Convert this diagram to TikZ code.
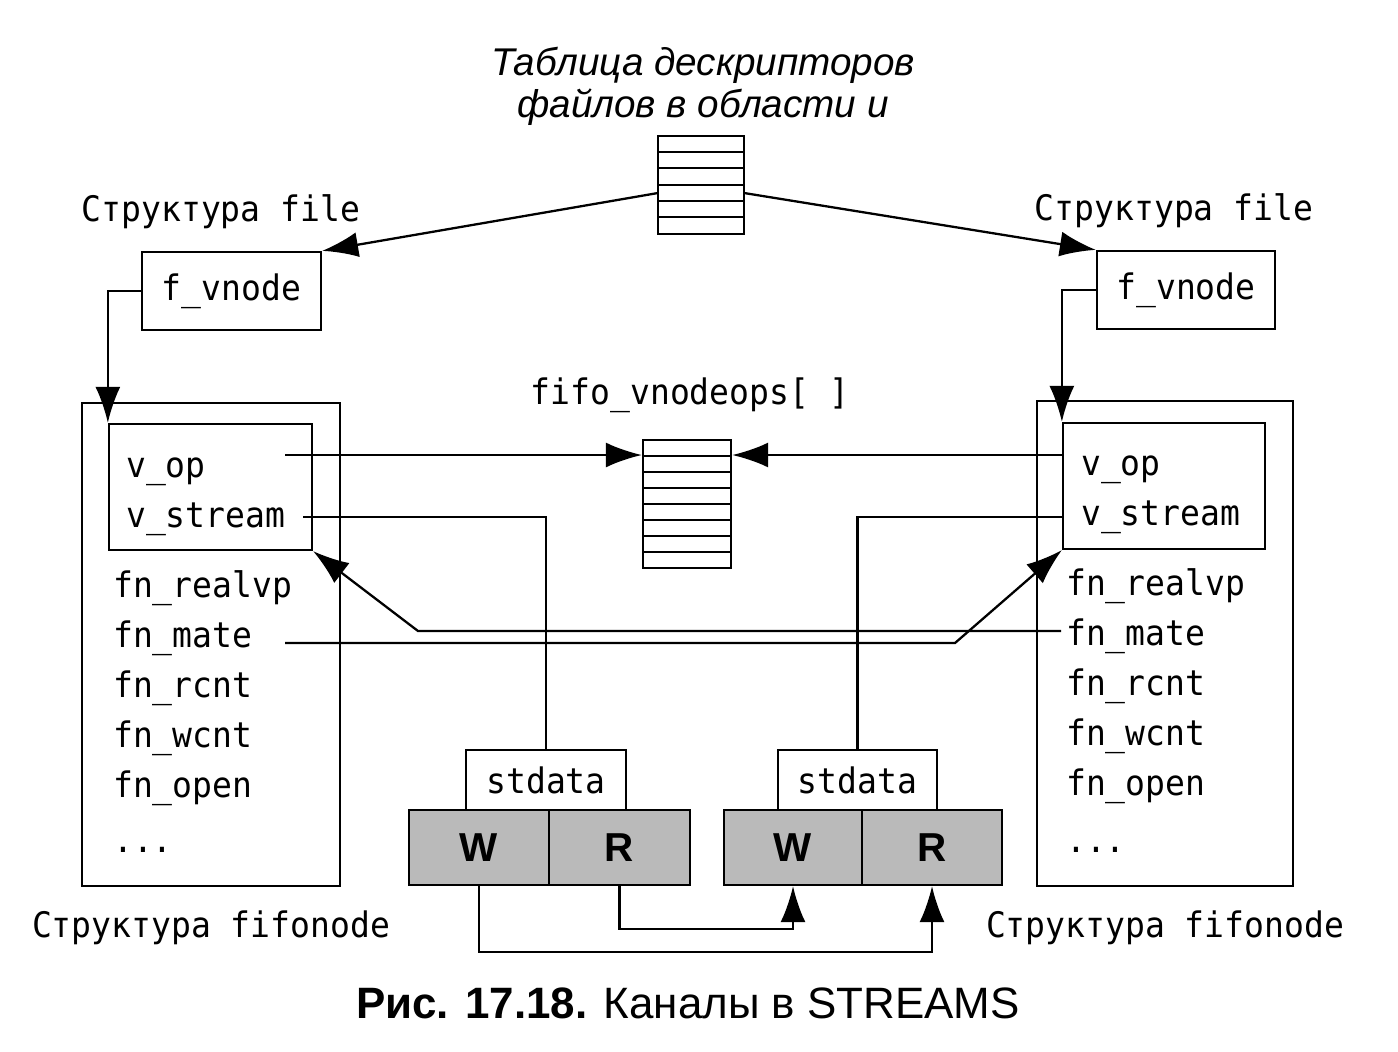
\documentclass[tikz,border=0pt]{standalone}
\usepackage{fontspec}
\setmainfont{Liberation Sans}
\newfontfamily\monof[FakeStretch=0.94]{DejaVu Sans Mono}
\usetikzlibrary{arrows.meta,fit}
\begin{document}
\begin{tikzpicture}[x=0.02cm,y=-0.02cm,
  line width=1.3pt,
  box/.style={draw,inner sep=0pt},
  mono/.style={font=\monof\fontsize{20}{24}\selectfont,inner sep=0pt},
  arr/.style={-{Latex[length=0.72cm,width=0.5cm]}},
  cell/.style={draw,fill=black!27,inner sep=0pt},
  celltxt/.style={font=\bfseries\fontsize{23}{26}\selectfont,inner sep=0pt},
  lbl/.style={mono,anchor=base west},
]
\useasboundingbox (0,0) rectangle (1398,1051);

% title
\node[font=\itshape\fontsize{22}{24}\selectfont,align=center] (title) at (703,86)
  {Таблица дескрипторов\\файлов в области u};

% u-area table
\node[box,fit={(658,136)(744,234)}] (tabu) {};
\foreach \y in {152,168,185,201,217} \draw (658,\y) -- (744,\y);

% fifo_vnodeops table
\node[mono] (opslbl) at (690,395) {fifo\_vnodeops[ ]};
\node[box,fit={(643,440)(731,568)}] (tabv) {};
\foreach \y in {456,472,488,504,520,536,552} \draw (643,\y) -- (731,\y);

% file structures
\node[mono] (Lfile) at (221,212) {Структура file};
\node[mono] (Rfile) at (1174,211) {Структура file};
\node[box,fit={(142,252)(321,330)}] (Lfv) {};
\node[mono] (Lfvt) at (Lfv.center) {f\_vnode};
\node[box,fit={(1097,251)(1275,329)}] (Rfv) {};
\node[mono] (Rfvt) at (Rfv.center) {f\_vnode};

% fifonode structures
\node[box,fit={(82,403)(340,886)}] (Lfifo) {};
\node[box,fit={(109,424)(312,550)}] (Lin) {};
\node[box,fit={(1037,401)(1293,886)}] (Rfifo) {};
\node[box,fit={(1063,423)(1265,549)}] (Rin) {};

\node[lbl] (Lvopt) at (125,477) {v\_op};
\node[lbl] (Lvst) at (125,527) {v\_stream};
\node[lbl] (Lrv) at (112,597) {fn\_realvp};
\node[lbl] (Lmt) at (112,647) {fn\_mate};
\node[lbl] (Lrc) at (112,697) {fn\_rcnt};
\node[lbl] (Lwc) at (112,747) {fn\_wcnt};
\node[lbl] (Lop) at (112,797) {fn\_open};
\node[lbl] (Ldt) at (112,852) {...};

\node[lbl] (Rvopt) at (1080,475) {v\_op};
\node[lbl] (Rvst) at (1080,525) {v\_stream};
\node[lbl] (Rrv) at (1065,595) {fn\_realvp};
\node[lbl] (Rmt) at (1065,645) {fn\_mate};
\node[lbl] (Rrc) at (1065,695) {fn\_rcnt};
\node[lbl] (Rwc) at (1065,745) {fn\_wcnt};
\node[lbl] (Rop) at (1065,795) {fn\_open};
\node[lbl] (Rdt) at (1065,852) {...};

\node[mono] (Lfn) at (211,928) {Структура fifonode};
\node[mono] (Rfn) at (1165,928) {Структура fifonode};

% stream heads
\node[box,fit={(466,750)(626,810)}] (sd1) {};
\node[mono] (sd1t) at (sd1.center) {stdata};
\node[box,fit={(778,750)(937,810)}] (sd2) {};
\node[mono] (sd2t) at (sd2.center) {stdata};
\node[cell,fit={(409,810)(549,885)}] (LW) {};
\node[cell,fit={(549,810)(690,885)}] (LR) {};
\node[cell,fit={(724,810)(862,885)}] (RW) {};
\node[cell,fit={(862,810)(1002,885)}] (RR) {};
\node[celltxt] (LWt) at (LW.center) {W};
\node[celltxt] (LRt) at (LR.center) {R};
\node[celltxt] (RWt) at (RW.center) {W};
\node[celltxt] (RRt) at (RR.center) {R};

% connector end points
\coordinate (T1L) at (658,193);
\coordinate (T1R) at (744,193);
\coordinate (Lvop) at (285,455);
\coordinate (Rvop) at (1063,455);
\coordinate (Lvs) at (303,517);
\coordinate (Rvs) at (1063,517);
\coordinate (Lmate) at (285,643);
\coordinate (Lbend) at (955,643);
\coordinate (Rmate) at (1061,631);
\coordinate (Rbend) at (418,631);

% connectors
\draw[arr] (T1L) -- (Lfv.north east);
\draw[arr] (T1R) -- (Rfv.north west);
\draw[arr] (Lfv.west) -| (Lin.north west);
\draw[arr] (Rfv.west) -| (Rin.north west);
\draw[arr] (Lvop) -- (Lvop -| tabv.west);
\draw[arr] (Rvop) -- (Rvop -| tabv.east);
\draw (Lvs) -| (sd1.north);
\draw (Rvs) -| (sd2.north);
\draw[arr] (Lmate) -- (Lbend) -- (Rin.south west);
\draw[arr] (Rmate) -- (Rbend) -- (Lin.south east);
\draw[arr] (LR.south) -- ++(0,43) -| (RW.south);
\draw[arr] (LW.south) -- ++(0,66) -| (RR.south);

% caption
\node[font=\fontsize{25}{28}\selectfont] (cap) at (688,1003)
  {\textbf{Рис. 17.18.} Каналы в STREAMS};
\end{tikzpicture}
\end{document}
